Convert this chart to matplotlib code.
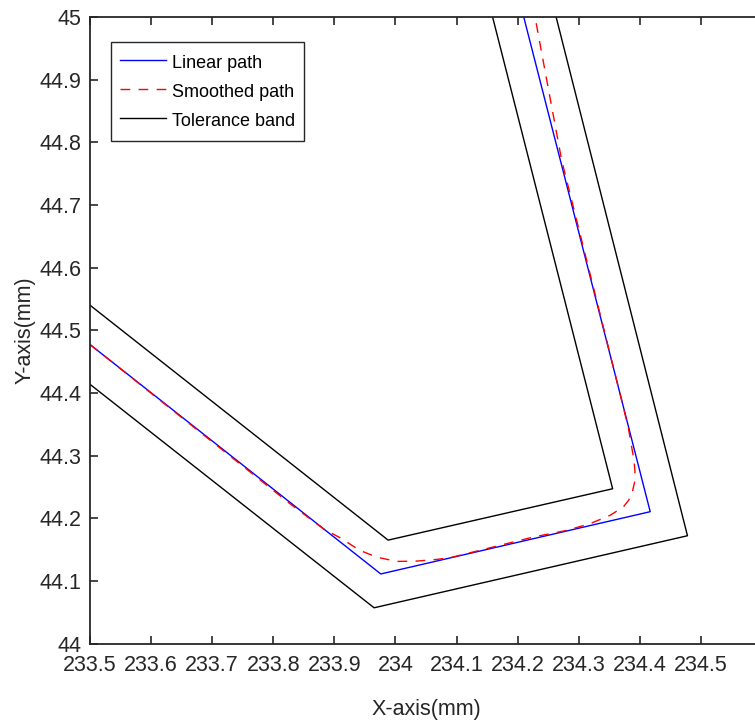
import matplotlib
matplotlib.use("Agg")
import matplotlib.pyplot as plt
from matplotlib.ticker import FuncFormatter

plt.rcParams['font.family'] = ['Liberation Sans', 'DejaVu Sans']

# Linear path (blue)
linear_x = [233.500, 233.976, 234.417, 234.210]
linear_y = [44.4772, 44.111, 44.2104, 45.000]

# Smoothed path (red dashed)
smooth_x = [233.500, 233.8273, 233.8818, 233.9092, 233.9419, 233.9692, 234.0020,
            234.0347, 234.0674, 234.0892, 234.2250, 234.2802, 234.3183, 234.3511,
            234.3728, 234.3820, 234.3880, 234.3915, 234.3920, 234.3905, 234.3810,
            234.3702, 234.2720, 234.2299]
smooth_y = [44.4772, 44.2232, 44.1832, 44.1688, 44.1486, 44.1379, 44.1310,
            44.1315, 44.1342, 44.1369, 44.1698, 44.1805, 44.1912, 44.2045,
            44.2177, 44.2290, 44.2430, 44.2577, 44.2750, 44.2923, 44.3455,
            44.3882, 44.7716, 44.9925]

# Tolerance band (black): inner and outer boundaries
band_inner_x = [233.500, 233.988, 234.3555, 234.159]
band_inner_y = [44.540, 44.165, 44.247, 45.000]
band_outer_x = [233.500, 233.965, 234.478, 234.263]
band_outer_y = [44.4137, 44.057, 44.172, 45.000]

xticks = [233.5, 233.6, 233.7, 233.8, 233.9, 234.0, 234.1, 234.2, 234.3, 234.4, 234.5]
yticks = [44.0, 44.1, 44.2, 44.3, 44.4, 44.5, 44.6, 44.7, 44.8, 44.9, 45.0]

W, H = 755, 724
fig = plt.figure(figsize=(W / 100, H / 100), dpi=100)
ax = fig.add_axes([90 / W, 1 - 643.5 / H, 672 / W, 626.5 / H])

axc = '#262626'
ax.plot(linear_x, linear_y, color='#0000ff', lw=1.0, label='Linear path')
ax.plot(smooth_x, smooth_y, color='#ff0000', lw=1.0, dashes=(7, 6), label='Smoothed path')
ax.plot(band_inner_x, band_inner_y, color='black', lw=1.0, label='Tolerance band')
ax.plot(band_outer_x, band_outer_y, color='black', lw=1.0)

ax.set_xlim(233.5, 234.6)
ax.set_ylim(44.0, 45.0)
ax.set_xticks(xticks)
ax.set_yticks(yticks)
fmt = FuncFormatter(lambda v, p: ('%.1f' % v).rstrip('0').rstrip('.'))
ax.xaxis.set_major_formatter(fmt)
ax.yaxis.set_major_formatter(fmt)

ax.tick_params(direction='in', top=True, right=False, length=6, width=1.2,
               colors=axc, labelsize=15.5)
ax.tick_params(axis='y', pad=6)
ax.tick_params(axis='x', pad=8)
for s in ax.spines.values():
    s.set_color(axc)
    s.set_linewidth(1.3)

ax.set_xlabel('X-axis(mm)', fontsize=15.5, color=axc, labelpad=17)
ax.set_ylabel('Y-axis(mm)', fontsize=15.5, color=axc, labelpad=3)

leg = ax.legend(loc='upper left', bbox_to_anchor=(111 / W, 1 - 42 / H),
                bbox_transform=fig.transFigure, fontsize=13,
                handlelength=2.55, handleheight=1.55, handletextpad=0.33,
                labelspacing=0.35, borderpad=0.5, borderaxespad=0,
                fancybox=False, framealpha=1)
leg.get_frame().set_edgecolor(axc)
leg.get_frame().set_linewidth(1.0)

fig.savefig('out.png', dpi=100)
